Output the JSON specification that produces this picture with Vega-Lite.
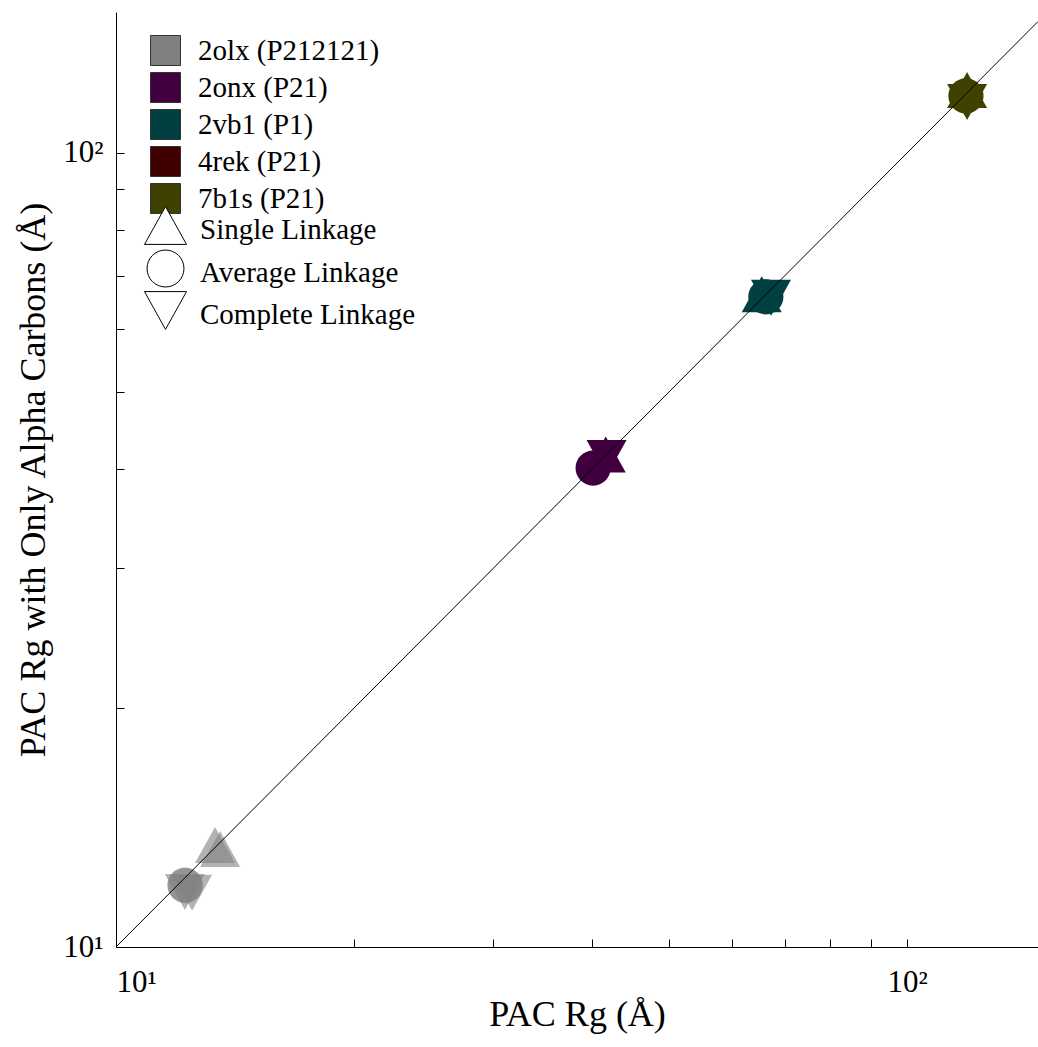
{
  "$schema": "https://vega.github.io/schema/vega-lite/v6.json",
  "width": 922,
  "height": 935,
  "autosize": {"type": "none"},
  "padding": {"left": 116, "top": 12, "right": 0, "bottom": 100},
  "background": "white",
  "config": {
    "view": {"stroke": null},
    "font": "Liberation Serif",
    "axis": {
      "domainColor": "black",
      "domainWidth": 1,
      "tickColor": "black",
      "tickWidth": 1,
      "tickSize": -8,
      "labelColor": "black",
      "titleColor": "black",
      "labelFont": "Liberation Serif",
      "titleFont": "Liberation Serif",
      "labelFontSize": 31,
      "titleFontSize": 36,
      "titleFontWeight": "normal",
      "grid": false
    },
    "legend": {
      "labelFont": "Liberation Serif",
      "labelFontSize": 29,
      "labelColor": "black",
      "labelLimit": 400,
      "padding": 0
    }
  },
  "datasets": {
    "points": [
      {"structure": "2olx (P212121)", "linkage": "Single Linkage", "rg": 13.34, "rg_ca": 13.44},
      {"structure": "2olx (P212121)", "linkage": "Single Linkage", "rg": 13.54, "rg_ca": 13.29},
      {"structure": "2olx (P212121)", "linkage": "Average Linkage", "rg": 12.22, "rg_ca": 11.97},
      {"structure": "2olx (P212121)", "linkage": "Average Linkage", "rg": 12.24, "rg_ca": 11.95},
      {"structure": "2olx (P212121)", "linkage": "Complete Linkage", "rg": 12.48, "rg_ca": 11.70},
      {"structure": "2olx (P212121)", "linkage": "Complete Linkage", "rg": 12.22, "rg_ca": 11.73},
      {"structure": "2onx (P21)", "linkage": "Average Linkage", "rg": 40.1, "rg_ca": 40.1},
      {"structure": "2onx (P21)", "linkage": "Single Linkage", "rg": 41.6, "rg_ca": 41.7},
      {"structure": "2onx (P21)", "linkage": "Complete Linkage", "rg": 41.7, "rg_ca": 41.3},
      {"structure": "2vb1 (P1)", "linkage": "Single Linkage", "rg": 65.5, "rg_ca": 66.4},
      {"structure": "2vb1 (P1)", "linkage": "Average Linkage", "rg": 66.3, "rg_ca": 65.9},
      {"structure": "2vb1 (P1)", "linkage": "Complete Linkage", "rg": 67.3, "rg_ca": 65.7},
      {"structure": "7b1s (P21)", "linkage": "Single Linkage", "rg": 119.1, "rg_ca": 120.0},
      {"structure": "7b1s (P21)", "linkage": "Average Linkage", "rg": 118.7, "rg_ca": 118.0},
      {"structure": "7b1s (P21)", "linkage": "Complete Linkage", "rg": 119.1, "rg_ca": 115.9}
    ],
    "diag": [{"v": 10}, {"v": 146.4}]
  },
  "layer": [
    {
      "data": {"name": "points"},
      "mark": {"type": "point", "filled": true, "size": 1600, "strokeWidth": 0},
      "encoding": {
        "x": {
          "field": "rg", "type": "quantitative",
          "scale": {"type": "log", "domain": [10, 146.4], "nice": false},
          "axis": {
            "title": "PAC Rg (Å)",
            "values": [10, 20, 30, 40, 50, 60, 70, 80, 90, 100],
            "labelExpr": "datum.value == 10 ? '10¹' : datum.value == 100 ? '10²' : ''",
            "labelPadding": 28,
            "titlePadding": 0
          }
        },
        "y": {
          "field": "rg_ca", "type": "quantitative",
          "scale": {"type": "log", "domain": [10, 150.5], "nice": false},
          "axis": {
            "title": "PAC Rg with Only Alpha Carbons (Å)",
            "values": [10, 20, 30, 40, 50, 60, 70, 80, 90, 100],
            "labelExpr": "datum.value == 10 ? '10¹' : datum.value == 100 ? '10²' : ''",
            "labelPadding": 21,
            "titlePadding": 10
          }
        },
        "color": {
          "field": "structure", "type": "nominal",
          "scale": {
            "domain": ["2olx (P212121)", "2onx (P21)", "2vb1 (P1)", "4rek (P21)", "7b1s (P21)"],
            "range": ["#808080", "#400040", "#004040", "#400000", "#404000"]
          },
          "legend": {
            "title": null,
            "orient": "none",
            "legendX": 34,
            "legendY": 23,
            "symbolType": "square",
            "symbolSize": 900,
            "symbolStrokeColor": "#333333",
            "symbolStrokeWidth": 1,
            "symbolOpacity": 1,
            "labelFont": "Liberation Serif",
            "labelOffset": 17,
            "rowPadding": 2
          }
        },
        "shape": {
          "field": "linkage", "type": "nominal",
          "scale": {
            "domain": ["Single Linkage", "Average Linkage", "Complete Linkage"],
            "range": [
              "M0,-0.9L1,0.9L-1,0.9Z",
              "M0.88,0A0.88,0.88,0,1,1,-0.88,0A0.88,0.88,0,1,1,0.88,0Z",
              "M0,0.9L1,-0.9L-1,-0.9Z"
            ]
          },
          "legend": {
            "title": null,
            "orient": "none",
            "legendX": 28,
            "legendY": 192,
            "symbolSize": 1764,
            "symbolFillColor": "white",
            "symbolStrokeColor": "black",
            "symbolStrokeWidth": 1,
            "symbolOpacity": 1,
            "labelFont": "Liberation Serif",
            "labelOffset": 13,
            "rowPadding": -6,
            "encode": {
              "labels": {"update": {"dy": {"value": 4}}},
              "symbols": {
                "enter": {
                  "fill": {"value": "white"},
                  "stroke": {"value": "black"}
                },
                "update": {
                  "fill": {"value": "white"},
                  "stroke": {"value": "black"},
                  "strokeWidth": {"value": 1},
                  "opacity": {"value": 1}
                }
              }
            }
          }
        },
        "opacity": {
          "condition": {"test": "datum.structure == '2olx (P212121)'", "value": 0.6},
          "value": 1
        }
      }
    },
    {
      "data": {"name": "diag"},
      "mark": {"type": "line", "color": "black", "strokeWidth": 1, "clip": true},
      "encoding": {
        "x": {"field": "v", "type": "quantitative"},
        "y": {"field": "v", "type": "quantitative"}
      }
    }
  ]
}
